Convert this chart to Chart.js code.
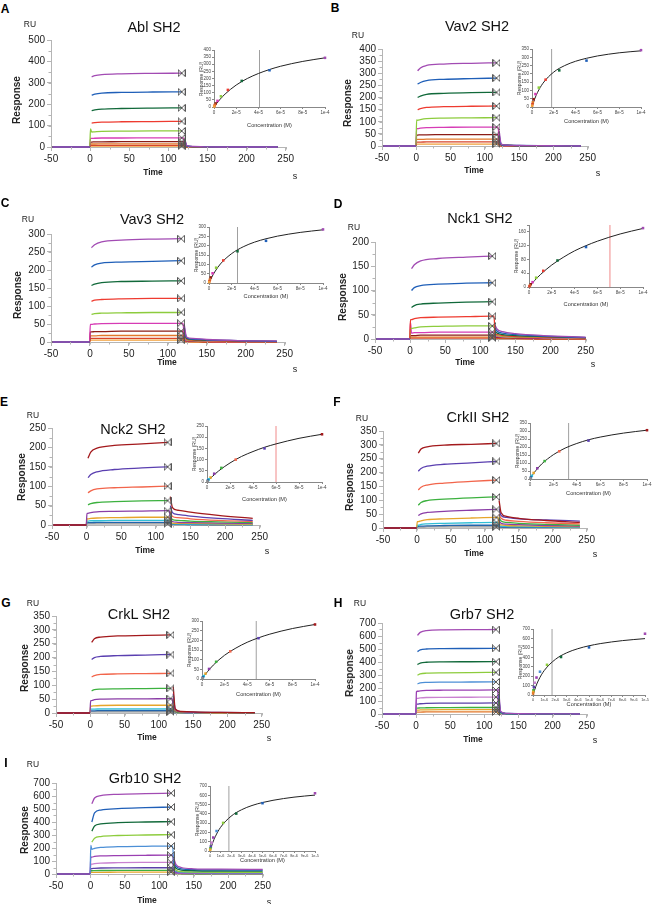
<!DOCTYPE html>
<html>
<head>
<meta charset="utf-8">
<script src="https://cdn.jsdelivr.net/npm/chart.js@4.4.1/dist/chart.umd.min.js"></script>
<style>
  body { margin: 0; width: 661px; height: 904px; background: #fff; position: relative; overflow: hidden;
         font-family: "Liberation Sans", Arial, sans-serif; color: #222; }
  canvas { position: absolute; }
  .t { position: absolute; white-space: nowrap; transform: translate(-50%, -50%); line-height: 1; }
  .letter { font-weight: bold; font-size: 12px; color: #000; }
  .title { font-size: 14.5px; color: #111; }
  .ru { font-size: 8.5px; }
  .resp { font-size: 10px; font-weight: bold; }
  .time { font-size: 8.5px; font-weight: bold; }
  .sec { font-size: 9px; }
  .conc { font-size: 5.6px; color: #333; }
  .iresp { font-size: 5px; color: #333; }
</style>
</head>
<body>
<script>
// ==============================
// DATA
// ==============================

// sensorgram time points (s)
const timeShort = [-48, -0.5, 0.5, 2, 6, 15, 40, 80, 117, 119.5, 121, 124, 132, 150, 190, 240];
const timeLong  = [-48, -0.5, 0.5, 2, 6, 15, 40, 80, 117, 119.5, 121, 124, 132, 150, 190, 250];

// injected concentrations (M), highest first
const concHigh = [1e-4, 5e-5, 2.5e-5, 1.25e-5, 6.25e-6, 3.13e-6, 1.56e-6, 7.8e-7, 3.9e-7, 1.95e-7];
const concLow  = [1e-5, 5e-6, 2.5e-6, 1.25e-6, 6.25e-7, 3.13e-7, 1.56e-7, 7.8e-8, 3.9e-8, 1.95e-8, 9.8e-9];

// fitted binding curves (concentration, response)
const fitConcHigh = [0, 2.5e-6, 5e-6, 1e-5, 2e-5, 3e-5, 4e-5, 5e-5, 6e-5, 8e-5, 1e-4];
const fitConcLow  = [0, 2.5e-7, 5e-7, 1e-6, 2e-6, 3e-6, 4e-6, 5e-6, 6e-6, 8e-6, 1e-5];
const ablFit   = [0, 26, 50, 91, 154, 200, 235, 263, 286, 320, 345];
const vav2Fit  = [0, 49, 87, 143, 211, 250, 276, 294, 308, 327, 339];
const vav3Fit  = [0, 32, 59, 102, 158, 194, 219, 237, 251, 271, 285];
const nck1Fit  = [0, 10, 19, 36, 64, 86, 105, 120, 133, 154, 170];
const nck2Fit  = [0, 14, 26, 49, 85, 114, 136, 155, 170, 195, 213];
const crk2Fit  = [0, 29, 53, 94, 152, 193, 222, 245, 262, 287, 305];
const crklFit  = [0, 21, 39, 72, 123, 160, 190, 213, 232, 261, 282];
const grb7Fit  = [0, 90, 159, 259, 378, 447, 491, 522, 545, 577, 598];
const grb10Fit = [0, 87, 154, 254, 374, 444, 490, 522, 546, 580, 602];

// KD marker lines in the insets (M), panels A..I
const kdLine = [4.1e-5, 1.8e-5, 2.5e-5, 7.1e-5, 6.0e-5, 3.3e-5, 4.8e-5, 1.7e-6, 1.8e-6];

// inset x tick labels
const tickHigh = [0, 2e-5, 4e-5, 6e-5, 8e-5, 1e-4];
const tickHighLabels = ["0", "2e-5", "4e-5", "6e-5", "8e-5", "1e-4"];
const tickLow = [0, 1e-6, 2e-6, 3e-6, 4e-6, 5e-6, 6e-6, 7e-6, 8e-6, 9e-6, 1e-5];
const tickLowLabels = ["0", "1e-6", "2e-6", "3e-6", "4e-6", "5e-6", "6e-6", "7e-6", "8e-6", "9e-6", "1e-5"];

// ----- A: Abl SH2 (RU at each time point) -----
const ablP  = [0, 0, null, 328, 333, 338, 342, 344, 345, null, 38, 6, 3, 1, 0, 0];
const ablB  = [0, 0, null, 242, 247, 252, 255, 257, 258, null, 30, 5, 2, 1, 0, 0];
const ablG  = [0, 0, null, 170, 173, 177, 180, 182, 183, null, 24, 4, 2, 1, 0, 0];
const ablR  = [0, 0, null, 112, 114, 116, 118, 119, 120, null, 18, 3, 1, 0, 0, 0];
const ablLG = [0, 0, 85, 70, 71, 73, 74, 75, 75, null, 12, 2, 1, 0, 0, 0];
const ablM  = [0, 0, 40, 40, 41, 42, 42, 43, 43, 43, 8, 2, 1, 0, 0, 0];
const ablDR = [0, 0, 22, 23, 24, 24, 25, 25, 25, 25, 5, 1, 0, 0, 0, 0];
const ablO  = [0, 0, 14, 14, 14, 15, 15, 15, 15, 15, 3, 1, 0, 0, 0, 0];
const ablR2 = [0, 0, 8, 8, 8, 8, 8, 8, 8, 8, 2, 0, 0, 0, 0, 0];
const ablO2 = [0, 0, 4, 4, 4, 4, 4, 4, 4, 4, 1, 0, 0, 0, 0, 0];

// ----- B: Vav2 SH2 -----
const vav2P  = [0, 0, null, 310, 322, 332, 338, 341, 343, null, 60, 8, 4, 2, 1, 0];
const vav2B  = [0, 0, null, 255, 262, 270, 275, 278, 280, null, 45, 6, 3, 2, 1, 0];
const vav2G  = [0, 0, null, 200, 206, 213, 217, 220, 221, null, 35, 5, 3, 1, 1, 0];
const vav2R  = [0, 0, null, 150, 154, 159, 162, 164, 165, null, 25, 4, 2, 1, 0, 0];
const vav2LG = [0, 0, 108, 106, 109, 113, 115, 116, 117, null, 18, 3, 2, 1, 0, 0];
const vav2M  = [0, 0, 72, 72, 74, 76, 77, 78, 78, 78, 12, 2, 1, 0, 0, 0];
const vav2DR = [0, 0, 45, 45, 46, 46, 47, 47, 47, 47, 8, 2, 1, 0, 0, 0];
const vav2O  = [0, 0, 27, 27, 27, 28, 28, 28, 28, 28, 5, 1, 0, 0, 0, 0];
const vav2R2 = [0, 0, 16, 16, 16, 17, 17, 17, 17, 17, 3, 1, 0, 0, 0, 0];
const vav2O2 = [0, 0, 8, 8, 8, 8, 8, 8, 8, 8, 2, 0, 0, 0, 0, 0];

// ----- C: Vav3 SH2 -----
const vav3P  = [0, 0, null, 262, 270, 278, 283, 286, 287, null, 50, 14, 10, 7, 4, 3];
const vav3B  = [0, 0, null, 208, 214, 219, 222, 224, 226, null, 42, 12, 8, 6, 4, 2];
const vav3G  = [0, 0, null, 157, 161, 165, 168, 169, 170, null, 35, 10, 7, 5, 3, 2];
const vav3R  = [0, 0, null, 113, 116, 118, 120, 121, 121, null, 28, 8, 5, 4, 2, 1];
const vav3LG = [0, 0, null, 77, 79, 80, 81, 82, 82, null, 20, 6, 4, 3, 2, 1];
const vav3M  = [0, 0, 49, 49, 50, 51, 52, 52, 52, 52, 14, 4, 3, 2, 1, 1];
const vav3DR = [0, 0, 28, 28, 29, 29, 30, 30, 30, 30, 9, 3, 2, 1, 1, 0];
const vav3O  = [0, 0, 17, 17, 17, 18, 18, 18, 18, 18, 6, 2, 1, 1, 0, 0];
const vav3R2 = [0, 0, 10, 10, 10, 10, 10, 10, 10, 10, 3, 1, 1, 0, 0, 0];
const vav3O2 = [0, 0, 5, 5, 5, 5, 5, 5, 5, 5, 2, 1, 0, 0, 0, 0];

// ----- D: Nck1 SH2 -----
const nck1P  = [0, 0, null, 145, 153, 161, 166, 169, 171, null, 28, 20, 15, 11, 7, 4];
const nck1B  = [0, 0, null, 100, 106, 110, 113, 115, 116, null, 22, 16, 12, 9, 6, 3];
const nck1G  = [0, 0, null, 65, 69, 72, 74, 76, 77, null, 16, 12, 9, 7, 5, 3];
const nck1R  = [0, 0, 40, 40, 42, 44, 45, 46, 47, 47, 12, 9, 7, 5, 4, 2];
const nck1LG = [0, 0, 22, 22, 23, 25, 26, 27, 27, 27, 9, 7, 5, 4, 3, 2];
const nck1M  = [0, 0, 35, 12, 13, 13, 14, 14, 14, 14, 6, 5, 4, 3, 2, 1];
const nck1DR = [0, 0, 7, 7, 7, 8, 8, 8, 8, 8, 4, 3, 3, 2, 1, 1];
const nck1O  = [0, 0, 4, 4, 4, 4, 4, 4, 4, 4, 2, 2, 2, 1, 1, 0];
const nck1R2 = [0, 0, 2, 2, 2, 2, 2, 2, 2, 2, 1, 1, 1, 1, 0, 0];

// ----- E: Nck2 SH2 -----
const nck2DR = [0, 0, null, 172, 188, 198, 205, 209, 213, null, 73, 45, 38, 33, 25, 17];
const nck2I  = [0, 0, null, 122, 130, 137, 143, 147, 150, null, 50, 32, 27, 23, 17, 12];
const nck2S  = [0, 0, null, 83, 88, 93, 96, 98, 100, null, 35, 22, 19, 16, 12, 9];
const nck2G  = [0, 0, null, 52, 55, 58, 60, 62, 63, null, 24, 14, 12, 10, 8, 6];
const nck2P  = [0, 0, 30, 30, 32, 34, 35, 36, 37, 37, 15, 9, 7, 6, 5, 4];
const nck2O  = [0, 0, 16, 16, 17, 18, 19, 20, 20, 20, 9, 5, 4, 4, 3, 2];
const nck2C  = [0, 0, 10, 10, 11, 11, 12, 12, 12, 12, 6, 3, 3, 2, 2, 1];
const nck2T  = [0, 0, 6, 6, 6, 7, 7, 7, 7, 7, 4, 2, 2, 1, 1, 1];
const nck2K  = [0, 0, 3, 3, 3, 3, 3, 3, 3, 3, 2, 1, 1, 1, 0, 0];

// ----- F: CrkII SH2 -----
const crk2DR = [0, 0, null, 270, 285, 293, 299, 302, 305, null, 100, 55, 42, 35, 27, 20];
const crk2I  = [0, 0, null, 205, 215, 223, 230, 235, 240, null, 70, 45, 38, 33, 29, 25];
const crk2S  = [0, 0, null, 137, 147, 155, 162, 168, 173, null, 50, 35, 28, 24, 19, 15];
const crk2G  = [0, 0, null, 82, 92, 99, 104, 109, 112, null, 38, 25, 20, 17, 13, 10];
const crk2P  = [0, 0, null, 45, 51, 56, 60, 64, 67, null, 25, 17, 14, 12, 9, 7];
const crk2O  = [0, 0, 23, 23, 26, 30, 33, 36, 38, 38, 16, 11, 9, 8, 6, 5];
const crk2C  = [0, 0, 10, 10, 13, 15, 17, 19, 20, 20, 9, 7, 6, 5, 4, 3];
const crk2T  = [0, 0, 6, 6, 7, 8, 9, 10, 10, 10, 5, 4, 3, 3, 2, 2];
const crk2K  = [0, 0, 3, 3, 3, 4, 4, 4, 4, 4, 3, 2, 2, 1, 1, 1];

// ----- G: CrkL SH2 -----
const crklDR = [0, 0, null, 255, 268, 274, 278, 280, 282, null, 95, 15, 6, 4, 2, 1];
const crklI  = [0, 0, null, 193, 200, 204, 207, 209, 211, null, 70, 12, 5, 3, 2, 1];
const crklS  = [0, 0, null, 130, 135, 139, 141, 142, 143, null, 50, 9, 4, 2, 1, 1];
const crklG  = [0, 0, null, 80, 84, 86, 87, 88, 89, null, 32, 6, 3, 2, 1, 0];
const crklP  = [0, 0, 45, 45, 48, 50, 51, 51, 52, 52, 20, 4, 2, 1, 1, 0];
const crklO  = [0, 0, 25, 25, 26, 27, 28, 28, 28, 28, 12, 3, 1, 1, 0, 0];
const crklC  = [0, 0, 14, 14, 14, 15, 15, 15, 15, 15, 7, 2, 1, 0, 0, 0];
const crklT  = [0, 0, 8, 8, 8, 9, 9, 9, 9, 9, 4, 1, 1, 0, 0, 0];
const crklK  = [0, 0, 4, 4, 4, 4, 4, 4, 4, 4, 2, 1, 0, 0, 0, 0];

// ----- H: Grb7 SH2 -----
const grb7P  = [0, 0, null, 605, 628, 642, 647, 649, 650, null, 195, 20, 5, 2, 1, 0];
const grb7B  = [0, 0, null, 480, 493, 500, 503, 504, 505, null, 150, 16, 4, 2, 1, 0];
const grb7G  = [0, 0, null, 380, 392, 398, 401, 402, 403, null, 120, 13, 3, 1, 1, 0];
const grb7LG = [0, 0, null, 298, 308, 314, 317, 319, 320, null, 95, 10, 3, 1, 0, 0];
const grb7LB = [0, 0, null, 232, 239, 243, 245, 246, 247, null, 75, 8, 2, 1, 0, 0];
const grb7P2 = [0, 0, 170, 175, 178, 181, 183, 184, 185, 185, 55, 6, 2, 1, 0, 0];
const grb7L  = [0, 0, 120, 120, 124, 127, 128, 129, 130, 130, 40, 5, 1, 0, 0, 0];
const grb7I  = [0, 0, 75, 76, 79, 82, 83, 84, 85, 85, 26, 3, 1, 0, 0, 0];
const grb7G2 = [0, 0, 45, 45, 47, 48, 49, 50, 50, 50, 16, 2, 1, 0, 0, 0];
const grb7O  = [0, 0, 30, 30, 31, 32, 33, 33, 33, 33, 10, 2, 0, 0, 0, 0];
const grb7R  = [0, 0, 15, 15, 15, 16, 16, 16, 16, 16, 5, 1, 0, 0, 0, 0];

// ----- I: Grb10 SH2 -----
const grb10P  = [0, 0, null, 540, 585, 603, 613, 618, 622, null, 120, 75, 50, 40, 37, 36];
const grb10B  = [0, 0, null, 400, 470, 492, 503, 510, 515, null, 100, 60, 40, 33, 31, 30];
const grb10G  = [0, 0, null, 330, 370, 385, 395, 400, 403, null, 80, 45, 30, 25, 23, 22];
const grb10LG = [0, 0, null, 245, 275, 288, 296, 300, 303, null, 60, 30, 18, 15, 13, 12];
const grb10LB = [0, 0, 220, 190, 198, 205, 210, 213, 215, 215, 45, 20, 12, 10, 9, 8];
const grb10P2 = [0, 0, 130, 130, 135, 139, 142, 144, 145, 145, 30, 13, 8, 7, 6, 6];
const grb10L  = [0, 0, 75, 76, 80, 84, 87, 89, 90, 90, 20, 9, 6, 5, 4, 4];
const grb10I  = [0, 0, 42, 42, 44, 46, 47, 48, 48, 48, 12, 6, 4, 3, 3, 3];
const grb10G2 = [0, 0, 25, 25, 26, 27, 28, 28, 28, 28, 8, 4, 3, 2, 2, 2];
const grb10O  = [0, 0, 12, 12, 13, 13, 14, 14, 14, 14, 5, 3, 2, 1, 1, 1];

// ==============================
// STYLES / LAYOUT
// ==============================
const palA = ["#a24bb3", "#1f5fb8", "#11693a", "#ee3b30", "#8dcc3d", "#d63cb5", "#8c1c16", "#e2782a", "#d8452c", "#f2a03a"];
const palE = ["#a3191c", "#5a3fb0", "#f2654b", "#3cb13f", "#8a3da6", "#e6a52a", "#31bfd6", "#2165ad", "#8c8c8c", "#1e1e1e"];
const palH = ["#a24bb3", "#1f5fb8", "#11693a", "#8dcc3d", "#4c8fd6", "#9a3fb2", "#c981d0", "#5a3fa8", "#3cb13f", "#e6a52a", "#e2782a"];

const GRAY_KD = "#a0a0a0";
const RED_KD = "#f08a8a";

const panels = [
  { letter: "A", title: "Abl SH2", time: timeShort, colors: palA, yMax: 500, yStep: 100,
    traces: [ablP, ablB, ablG, ablR, ablLG, ablM, ablDR, ablO, ablR2, ablO2],
    conc: concHigh, fitConc: fitConcHigh, fit: ablFit, kdColor: GRAY_KD, iMax: 400, iStep: 50, low: false,
    box: [51, 286, 147, 40], ibox: [214, 325, 107, 50],
    pos: { letter: [5, 9], title: [154, 27], ru: [30, 24], resp: [17, 100], time: [153, 172], s: [295, 176], conc: 126 } },
  { letter: "B", title: "Vav2 SH2", time: timeShort, colors: palA, yMax: 400, yStep: 50,
    traces: [vav2P, vav2B, vav2G, vav2R, vav2LG, vav2M, vav2DR, vav2O, vav2R2, vav2O2],
    conc: concHigh, fitConc: fitConcHigh, fit: vav2Fit, kdColor: GRAY_KD, iMax: 350, iStep: 50, low: false,
    box: [382, 588, 146, 49], ibox: [532, 641, 107, 49],
    pos: { letter: [335, 8], title: [477, 26], ru: [358, 35], resp: [348, 103], time: [474, 170], s: [598, 173], conc: 122 } },
  { letter: "C", title: "Vav3 SH2", time: timeShort, colors: palA, yMax: 300, yStep: 50,
    traces: [vav3P, vav3B, vav3G, vav3R, vav3LG, vav3M, vav3DR, vav3O, vav3R2, vav3O2],
    conc: concHigh, fitConc: fitConcHigh, fit: vav3Fit, kdColor: GRAY_KD, iMax: 300, iStep: 50, low: false,
    box: [51, 285, 342, 234], ibox: [209, 323, 283, 227],
    pos: { letter: [5, 203], title: [152, 219], ru: [28, 219], resp: [18, 295], time: [167, 362], s: [295, 369], conc: 297 } },
  { letter: "D", title: "Nck1 SH2", time: timeLong, colors: palA, yMax: 200, yStep: 50,
    traces: [nck1P, nck1B, nck1G, nck1R, nck1LG, nck1M, nck1DR, nck1O, nck1R2],
    conc: concHigh, fitConc: fitConcHigh, fit: nck1Fit, kdColor: RED_KD, iMax: 180, iStep: 40, low: false,
    box: [375, 586, 339, 242], ibox: [529, 643, 287, 225],
    pos: { letter: [338, 204], title: [480, 218], ru: [354, 227], resp: [343, 297], time: [465, 362], s: [593, 364], conc: 305 } },
  { letter: "E", title: "Nck2 SH2", time: timeShort, colors: palE, yMax: 250, yStep: 50,
    traces: [nck2DR, nck2I, nck2S, nck2G, nck2P, nck2O, nck2C, nck2T, nck2K],
    conc: concHigh, fitConc: fitConcHigh, fit: nck2Fit, kdColor: RED_KD, iMax: 250, iStep: 50, low: false,
    box: [52, 260, 525, 428], ibox: [207, 322, 482, 426],
    pos: { letter: [4, 402], title: [133, 429], ru: [33, 415], resp: [22, 477], time: [145, 550], s: [267, 551], conc: 500 } },
  { letter: "F", title: "CrkII SH2", time: timeShort, colors: palE, yMax: 350, yStep: 50,
    traces: [crk2DR, crk2I, crk2S, crk2G, crk2P, crk2O, crk2C, crk2T, crk2K],
    conc: concHigh, fitConc: fitConcHigh, fit: crk2Fit, kdColor: GRAY_KD, iMax: 350, iStep: 50, low: false,
    box: [383, 587, 528, 431], ibox: [530, 647, 479, 423],
    pos: { letter: [337, 402], title: [478, 417], ru: [362, 418], resp: [350, 487], time: [474, 553], s: [595, 554], conc: 494 } },
  { letter: "G", title: "CrkL SH2", time: timeShort, colors: palE, yMax: 350, yStep: 50,
    traces: [crklDR, crklI, crklS, crklG, crklP, crklO, crklC, crklT, crklK],
    conc: concHigh, fitConc: fitConcHigh, fit: crklFit, kdColor: GRAY_KD, iMax: 300, iStep: 50, low: false,
    box: [56, 262, 713, 616], ibox: [202, 315, 679, 621],
    pos: { letter: [6, 603], title: [139, 614], ru: [33, 603], resp: [25, 668], time: [147, 737], s: [269, 738], conc: 695 } },
  { letter: "H", title: "Grb7 SH2", time: timeShort, colors: palH, yMax: 700, yStep: 100,
    traces: [grb7P, grb7B, grb7G, grb7LG, grb7LB, grb7P2, grb7L, grb7I, grb7G2, grb7O, grb7R],
    conc: concLow, fitConc: fitConcLow, fit: grb7Fit, kdColor: GRAY_KD, iMax: 700, iStep: 100, low: true,
    box: [382, 587, 714, 623], ibox: [533, 645, 695, 629],
    pos: { letter: [338, 603], title: [482, 614], ru: [360, 603], resp: [350, 673], time: [473, 739], s: [595, 740], conc: 705 } },
  { letter: "I", title: "Grb10 SH2", time: timeLong, colors: palH, yMax: 700, yStep: 100,
    traces: [grb10P, grb10B, grb10G, grb10LG, grb10LB, grb10P2, grb10L, grb10I, grb10G2, grb10O],
    conc: concLow, fitConc: fitConcLow, fit: grb10Fit, kdColor: GRAY_KD, iMax: 700, iStep: 100, low: true,
    box: [56, 263, 874, 783], ibox: [210, 315, 851, 786],
    pos: { letter: [6, 763], title: [145, 778], ru: [33, 764], resp: [25, 830], time: [147, 900], s: [269, 902], conc: 861 } },
];

// index of the end-of-association point in the time grid
const END_IDX = 8;

Chart.defaults.font.family = '"Liberation Sans", Arial, sans-serif';
Chart.defaults.color = "#222";

// ==============================
// HELPERS
// ==============================
function addCanvas(left, top, w, h) {
  const c = document.createElement("canvas");
  c.width = w; c.height = h;
  c.style.left = left + "px"; c.style.top = top + "px";
  c.style.width = w + "px"; c.style.height = h + "px";
  document.body.appendChild(c);
  return c;
}

function addText(txt, xy, cls, rotate) {
  const d = document.createElement("div");
  d.className = "t " + cls;
  d.textContent = txt;
  d.style.left = xy[0] + "px";
  d.style.top = xy[1] + "px";
  if (rotate) d.style.transform = "translate(-50%, -50%) rotate(-90deg)";
  document.body.appendChild(d);
}

// small bow-tie marker used at the end of each injection
function makeBowtie() {
  const c = document.createElement("canvas");
  c.width = 8; c.height = 8;
  const g = c.getContext("2d");
  g.strokeStyle = "#555"; g.lineWidth = 1;
  g.beginPath();
  g.moveTo(0.5, 0.5); g.lineTo(7.5, 7.5);
  g.moveTo(7.5, 0.5); g.lineTo(0.5, 7.5);
  g.moveTo(0.5, 0.5); g.lineTo(0.5, 7.5);
  g.moveTo(7.5, 0.5); g.lineTo(7.5, 7.5);
  g.stroke();
  return c;
}
const bowtie = makeBowtie();

// minor tick marks between the labelled ones
const minorTicks = {
  id: "minorTicks",
  afterDraw(chart, args, opts) {
    const { ctx, chartArea } = chart;
    const xs = chart.scales.x, ys = chart.scales.y;
    ctx.save();
    ctx.strokeStyle = opts.color;
    ctx.lineWidth = 1;
    ctx.beginPath();
    const nx = Math.round((xs.max - xs.min) / opts.xStep);
    for (let i = 0; i <= nx; i++) {
      const px = Math.round(xs.getPixelForValue(xs.min + i * opts.xStep)) + 0.5;
      ctx.moveTo(px, chartArea.bottom);
      ctx.lineTo(px, chartArea.bottom + opts.len);
    }
    const ny = Math.round((ys.max - ys.min) / opts.yStep);
    for (let i = 0; i <= ny; i++) {
      const py = Math.round(ys.getPixelForValue(ys.min + i * opts.yStep)) + 0.5;
      ctx.moveTo(chartArea.left, py);
      ctx.lineTo(chartArea.left - opts.len, py);
    }
    ctx.stroke();
    ctx.restore();
  },
};

// ==============================
// SENSORGRAM
// ==============================
function renderMain(p) {
  const padL = 30, padT = 8, padR = 10, padB = 22;
  const [x0, x1, yb, yt] = p.box;
  const cv = addCanvas(x0 - padL, yt - padT, x1 - x0 + padL + padR, yb - yt + padT + padB);

  const traceSets = p.traces.map((tr, i) => ({
    data: p.time.map((t, k) => ({ x: t, y: tr[k] })),
    borderColor: p.colors[i],
    borderWidth: 1.3,
    pointRadius: 0,
    cubicInterpolationMode: "monotone",
    spanGaps: false,
    clip: 2,
  }));

  const markers = {
    data: p.traces.map((tr) => ({ x: p.time[END_IDX], y: tr[END_IDX] })),
    showLine: false,
    pointStyle: bowtie,
    pointRadius: 4,
    clip: false,
  };

  new Chart(cv, {
    type: "line",
    data: { datasets: [markers, ...traceSets] },
    options: {
      responsive: false,
      animation: false,
      events: [],
      layout: { padding: { top: padT, right: padR, left: 0, bottom: 0 } },
      plugins: {
        legend: { display: false },
        tooltip: { enabled: false },
        minorTicks: { color: "#b5b5b5", len: 2.5, xStep: 25, yStep: p.yStep / 2 },
      },
      scales: {
        x: {
          type: "linear",
          min: -50,
          max: 250,
          afterFit: (s) => { s.height = padB; },
          ticks: { stepSize: 50, autoSkip: false, maxRotation: 0, padding: 2, font: { size: 10 }, color: "#222" },
          grid: { drawOnChartArea: false, tickLength: 4, color: "#b5b5b5" },
          border: { color: "#b5b5b5" },
        },
        y: {
          type: "linear",
          min: 0,
          max: p.yMax,
          afterFit: (s) => { s.width = padL; },
          ticks: { stepSize: p.yStep, autoSkip: false, padding: 2, font: { size: 10 }, color: "#222" },
          grid: { drawOnChartArea: false, tickLength: 4, color: "#b5b5b5" },
          border: { color: "#b5b5b5" },
        },
      },
    },
    plugins: [minorTicks],
  });
}

// ==============================
// INSET: BINDING ISOTHERM
// ==============================
function renderInset(p, idx) {
  const padL = 14, padT = 4, padR = 6, padB = 9;
  const [x0, x1, yb, yt] = p.ibox;
  const cv = addCanvas(x0 - padL, yt - padT, x1 - x0 + padL + padR, yb - yt + padT + padB);

  const tickVals = p.low ? tickLow : tickHigh;
  const tickLabels = p.low ? tickLowLabels : tickHighLabels;
  const xMax = tickVals[tickVals.length - 1];

  const points = {
    data: p.traces.map((tr, i) => ({ x: p.conc[i], y: tr[END_IDX] })),
    showLine: false,
    pointStyle: "rect",
    pointRadius: 1.8,
    backgroundColor: p.traces.map((tr, i) => p.colors[i]),
    borderColor: p.traces.map((tr, i) => p.colors[i]),
    borderWidth: 0,
    clip: false,
  };
  const fitLine = {
    data: p.fitConc.map((c, k) => ({ x: c, y: p.fit[k] })),
    borderColor: "#222",
    borderWidth: 1,
    pointRadius: 0,
    cubicInterpolationMode: "monotone",
  };
  const kd = {
    data: [{ x: kdLine[idx], y: 0 }, { x: kdLine[idx], y: p.iMax }],
    borderColor: p.kdColor,
    borderWidth: 1,
    pointRadius: 0,
  };

  new Chart(cv, {
    type: "line",
    data: { datasets: [points, fitLine, kd] },
    options: {
      responsive: false,
      animation: false,
      events: [],
      layout: { padding: { top: padT, right: padR, left: 0, bottom: 0 } },
      plugins: { legend: { display: false }, tooltip: { enabled: false } },
      scales: {
        x: {
          type: "linear",
          min: 0,
          max: xMax,
          afterFit: (s) => { s.height = padB; },
          afterBuildTicks: (s) => { s.ticks = tickVals.map((v) => ({ value: v })); },
          ticks: {
            autoSkip: false, maxRotation: 0, padding: 1, font: { size: p.low ? 3.8 : 4.5 }, color: "#444",
            callback: (v, i) => tickLabels[i],
          },
          grid: { drawOnChartArea: false, tickLength: 2, color: "#888" },
          border: { color: "#888" },
        },
        y: {
          type: "linear",
          min: 0,
          max: p.iMax,
          afterFit: (s) => { s.width = padL; },
          ticks: {
            stepSize: p.iStep, autoSkip: false, padding: 1, font: { size: 4.5 }, color: "#444",
            callback: (v) => (Math.abs(v / p.iStep - Math.round(v / p.iStep)) < 1e-6 && v <= p.iMax ? v : ""),
          },
          grid: { drawOnChartArea: false, tickLength: 2, color: "#888" },
          border: { color: "#888" },
        },
      },
    },
  });

  addText("Concentration (M)", [(x0 + x1) / 2, p.pos.conc], "conc");
  addText("Response (RU)", [x0 - 13, (yt + yb) / 2], "iresp", true);
}

// ==============================
// BUILD ALL PANELS
// ==============================
panels.forEach((p, idx) => {
  renderMain(p);
  renderInset(p, idx);

  addText(p.letter, p.pos.letter, "letter");
  addText(p.title, p.pos.title, "title");
  addText("RU", p.pos.ru, "ru");
  addText("Response", p.pos.resp, "resp", true);
  addText("Time", p.pos.time, "time");
  addText("s", p.pos.s, "sec");
});
</script>
</body>
</html>
